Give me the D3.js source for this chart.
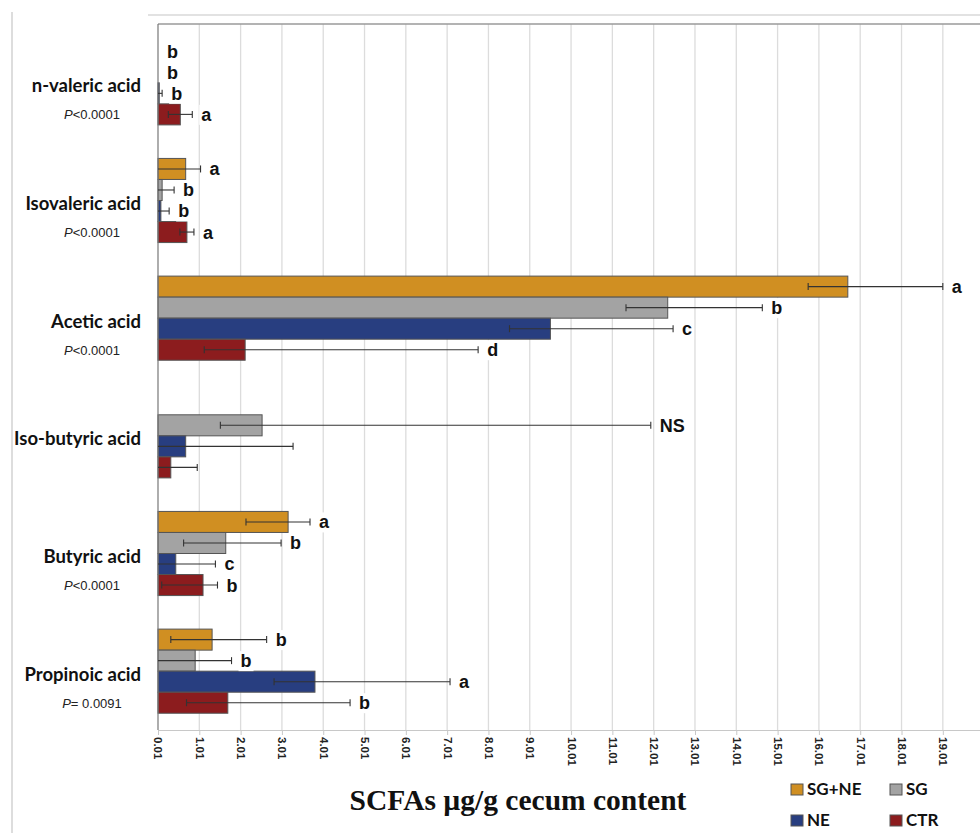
<!DOCTYPE html>
<html>
<head>
<meta charset="utf-8">
<script src="https://cdn.jsdelivr.net/npm/d3@7"></script>
<style>
	body { margin: 0; background: #fff; }
	svg { display: block; }
</style>
</head>
<body>
<div id="chart"></div>
<script>
// ---------- DATA ----------
const categories = [
	"n-valeric acid",
	"Isovaleric acid",
	"Acetic acid",
	"Iso-butyric acid",
	"Butyric acid",
	"Propinoic acid",
];
const pSymbols = ["<0.0001", "<0.0001", "<0.0001", "", "<0.0001", "= 0.0091"];
const groups = ["SG+NE", "SG", "NE", "CTR"];
const groupColors = ["#D08F22", "#A3A3A3", "#283E80", "#8C1C1E"];

// mean values, one array per group (top to bottom in each category)
const sgneValues = [0, 0.67, 16.7, 0, 3.15, 1.31];
const sgValues = [0, 0.1, 12.34, 2.52, 1.64, 0.9];
const neValues = [0.03, 0.07, 9.5, 0.67, 0.43, 3.8];
const ctrValues = [0.54, 0.7, 2.11, 0.31, 1.09, 1.69];

// error bar ends (low / high)
const sgneLow = [0, 0, 15.74, 0, 2.13, 0.31];
const sgneHigh = [0, 1.03, 19.0, 0, 3.68, 2.63];
const sgLow = [0, 0, 11.33, 1.51, 0.62, 0];
const sgHigh = [0, 0.39, 14.63, 11.93, 2.98, 1.78];
const neLow = [0, 0, 8.51, 0, 0, 2.81];
const neHigh = [0.1, 0.27, 12.47, 3.27, 1.39, 7.07];
const ctrLow = [0.25, 0.53, 1.12, 0, 0.09, 0.69];
const ctrHigh = [0.83, 0.87, 7.75, 0.95, 1.44, 4.65];

// significance letters
const sgneLetters = ["b", "a", "a", "", "a", "b"];
const sgLetters = ["b", "b", "b", "NS", "b", "b"];
const neLetters = ["b", "b", "c", "", "c", "a"];
const ctrLetters = ["a", "a", "d", "", "b", "b"];

const tickValues = d3.range(0, 20).map((i) => i + 0.01);

// ---------- CHART ----------
const width = 980;
const height = 833;
const plot = { left: 158, right: 980, top: 24, bottom: 730 };

const values = [sgneValues, sgValues, neValues, ctrValues];
const lows = [sgneLow, sgLow, neLow, ctrLow];
const highs = [sgneHigh, sgHigh, neHigh, ctrHigh];
const letters = [sgneLetters, sgLetters, neLetters, ctrLetters];

const rows = [];
categories.forEach((cat, ci) => {
	groups.forEach((g, gi) => {
		rows.push({
			cat: cat,
			group: g,
			value: values[gi][ci],
			low: lows[gi][ci],
			high: highs[gi][ci],
			letter: letters[gi][ci],
		});
	});
});

const svg = d3
	.select("#chart")
	.append("svg")
	.attr("width", width)
	.attr("height", height);

svg.append("rect").attr("width", width).attr("height", height).attr("fill", "#fff");

const xScale = d3
	.scaleLinear()
	.domain([0.01, 19.91])
	.range([plot.left, plot.right]);

const yScale = d3
	.scaleBand()
	.domain(categories)
	.range([plot.top, plot.bottom])
	.paddingInner(0.285)
	.paddingOuter(0.1425);

const ySub = d3
	.scaleBand()
	.domain(groups)
	.range([0, yScale.bandwidth()]);

// frame lines
svg.append("line")
	.attr("x1", 12).attr("x2", 12).attr("y1", 12).attr("y2", height)
	.attr("stroke", "#ddd").attr("stroke-width", 2);
svg.append("line")
	.attr("x1", 148).attr("x2", width).attr("y1", 15).attr("y2", 15)
	.attr("stroke", "#e2e2e2").attr("stroke-width", 2);

// grid
svg.append("g")
	.selectAll("line")
	.data(tickValues.slice(1))
	.join("line")
	.attr("x1", (d) => xScale(d))
	.attr("x2", (d) => xScale(d))
	.attr("y1", plot.top)
	.attr("y2", plot.bottom)
	.attr("stroke", "#dcdcdc")
	.attr("stroke-width", 1.3);

svg.append("line")
	.attr("x1", plot.left).attr("x2", width).attr("y1", plot.top).attr("y2", plot.top)
	.attr("stroke", "#9a9a9a").attr("stroke-width", 1.5);

// x axis
const xAxis = svg
	.append("g")
	.attr("transform", `translate(0, ${plot.bottom})`)
	.call(
		d3.axisBottom(xScale)
			.tickValues(tickValues)
			.tickFormat(d3.format(".2f"))
			.tickSize(5)
	);
xAxis.select(".domain").attr("stroke", "#c8c8c8").attr("d", `M${plot.left},0.5H${width}`);
xAxis.selectAll(".tick line").attr("stroke", "#c8c8c8");
xAxis.selectAll(".tick text")
	.attr("transform", "rotate(90)")
	.attr("x", 7)
	.attr("y", 0)
	.attr("dy", "0.35em")
	.attr("text-anchor", "start")
	.attr("fill", "#222")
	.style("font-family", "'Liberation Sans', Arial, sans-serif")
	.style("font-weight", "bold")
	.style("font-size", "11.5px");

// bars
const barG = svg.append("g");
barG.selectAll("rect")
	.data(rows)
	.join("rect")
	.attr("x", xScale(0.01))
	.attr("y", (d) => yScale(d.cat) + ySub(d.group))
	.attr("width", (d) => Math.max(0, xScale(d.value + 0.01) - xScale(0.01)))
	.attr("height", ySub.bandwidth())
	.attr("fill", (d) => groupColors[groups.indexOf(d.group)])
	.attr("stroke", "#555")
	.attr("stroke-width", 1);

// y axis line
svg.append("line")
	.attr("x1", plot.left).attr("x2", plot.left)
	.attr("y1", plot.top).attr("y2", plot.bottom)
	.attr("stroke", "#777").attr("stroke-width", 1.2);

// error bars
const errG = svg.append("g").attr("stroke", "#333").attr("stroke-width", 1.1);
rows.filter((d) => d.high > 0).forEach((d) => {
	const cy = yScale(d.cat) + ySub(d.group) + ySub.bandwidth() / 2;
	const x0 = xScale(d.low + 0.01);
	const x1 = xScale(d.high + 0.01);
	errG.append("line").attr("x1", x0).attr("x2", x1).attr("y1", cy).attr("y2", cy);
	errG.append("line").attr("x1", x1).attr("x2", x1).attr("y1", cy - 3.5).attr("y2", cy + 3.5);
	if (d.low > 0) {
		errG.append("line").attr("x1", x0).attr("x2", x0).attr("y1", cy - 3.5).attr("y2", cy + 3.5);
	}
});

// letters
const letterG = svg.append("g");
rows.filter((d) => d.letter !== "").forEach((d) => {
	const cy = yScale(d.cat) + ySub(d.group) + ySub.bandwidth() / 2;
	const lx = xScale(Math.max(d.high, d.value) + 0.01) + 9;
	const t = letterG
		.append("text")
		.attr("x", lx)
		.attr("y", cy)
		.attr("dy", "0.36em")
		.attr("fill", "#111")
		.style("font-family", "'Liberation Sans', Arial, sans-serif")
		.style("font-weight", "bold")
		.style("font-size", "18px")
		.text(d.letter);
	const bb = t.node().getBBox();
	letterG.insert("rect", "text")
		.attr("x", bb.x - 2)
		.attr("y", bb.y)
		.attr("width", bb.width + 4)
		.attr("height", bb.height)
		.attr("fill", "#fff");
});

// category labels
const labelG = svg.append("g");
categories.forEach((cat, i) => {
	const cy = yScale(cat) + yScale.bandwidth() / 2;
	labelG.append("text")
		.attr("x", 141)
		.attr("y", cy + 3)
		.attr("dy", "0.35em")
		.attr("text-anchor", "end")
		.attr("fill", "#111")
		.style("font-family", "Lato, 'Open Sans', sans-serif")
		.style("font-weight", "bold")
		.style("font-size", "18.5px")
		.text(cat);
	if (pSymbols[i] !== "") {
		const p = labelG.append("text")
			.attr("x", 92)
			.attr("y", cy + 32)
			.attr("dy", "0.35em")
			.attr("text-anchor", "middle")
			.attr("fill", "#222")
			.style("font-family", "'Liberation Sans', Arial, sans-serif")
			.style("font-size", "13px");
		p.append("tspan").style("font-style", "italic").text("P");
		p.append("tspan").text(pSymbols[i]);
	}
});

// axis title
svg.append("text")
	.attr("x", 518)
	.attr("y", 810)
	.attr("text-anchor", "middle")
	.attr("fill", "#111")
	.style("font-family", "'Liberation Serif', 'Times New Roman', serif")
	.style("font-weight", "bold")
	.style("font-size", "29.5px")
	.text("SCFAs µg/g cecum content");

// legend
const legendPos = [
	[791, 784],
	[890, 784],
	[791, 815],
	[890, 815],
];
const legendG = svg.append("g");
groups.forEach((g, i) => {
	const [lx, ly] = legendPos[i];
	legendG.append("rect")
		.attr("x", lx).attr("y", ly)
		.attr("width", 12).attr("height", 11)
		.attr("fill", groupColors[i])
		.attr("stroke", "#555").attr("stroke-width", 1);
	legendG.append("text")
		.attr("x", lx + 16)
		.attr("y", ly + 11)
		.attr("fill", "#111")
		.style("font-family", "Lato, 'Open Sans', sans-serif")
		.style("font-weight", "bold")
		.style("font-size", "17px")
		.text(g);
});
</script>
</body>
</html>
